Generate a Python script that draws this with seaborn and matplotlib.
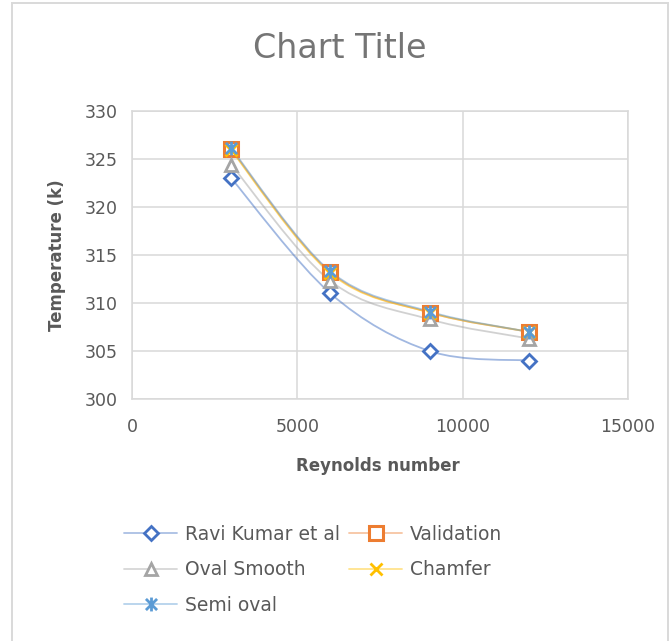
import numpy as np
import matplotlib
matplotlib.use("Agg")
import matplotlib.pyplot as plt
from matplotlib.path import Path
from matplotlib.patches import PathPatch, Rectangle
from matplotlib.lines import Line2D
import seaborn as sns

# Reynolds number and outlet temperature (K) for each configuration
reynolds = [3000, 6000, 9000, 12000]
ravi_kumar = [323.0, 311.0, 305.0, 304.0]
validation = [326.0, 313.2, 309.0, 307.0]
oval_smooth = [324.4, 312.3, 308.3, 306.3]
chamfer = [325.9, 313.1, 309.0, 307.0]
semi_oval = [326.1, 313.3, 309.1, 307.0]

series_names = ["Ravi Kumar et al", "Validation", "Oval Smooth", "Chamfer", "Semi oval"]
series_values = [ravi_kumar, validation, oval_smooth, chamfer, semi_oval]

x_ticks = [0, 5000, 10000, 15000]
y_ticks = [300, 305, 310, 315, 320, 325, 330]

sns.set_theme(style="white")
plt.rcParams["font.family"] = ["DejaVu Sans"]

TEXT = "#595959"
GRID = "#D9D9D9"

# asterisk marker: an "x" crossed by a vertical stroke
star_marker = Path(
    [(-1, -1), (1, 1), (-1, 1), (1, -1), (0, -1.25), (0, 1.25)],
    [Path.MOVETO, Path.LINETO, Path.MOVETO, Path.LINETO, Path.MOVETO, Path.LINETO],
)

styles = {
    "Ravi Kumar et al": dict(color="#4472C4", marker="D", ms=7.5, mew=2.0, mfc="white"),
    "Validation": dict(color="#ED7D31", marker="s", ms=10.5, mew=2.2, mfc="white"),
    "Oval Smooth": dict(color="#A5A5A5", marker="^", ms=9, mew=2.0, mfc="white"),
    "Chamfer": dict(color="#FFC000", marker="x", ms=9, mew=2.0, mfc="none"),
    "Semi oval": dict(color="#5B9BD5", marker=star_marker, ms=10, mew=2.0, mfc="none"),
}

fig = plt.figure(figsize=(6.72, 6.41), dpi=100)
ax = fig.add_axes([132 / 672, 1 - 399 / 641, 496 / 672, 288 / 641])


def smooth_path(xs, ys, tension=1 / 6):
    """Cubic Bezier path through the points (Excel-style smoothed line)."""
    pts = np.column_stack([xs, ys]).astype(float)
    verts = [tuple(pts[0])]
    codes = [Path.MOVETO]
    n = len(pts)
    for i in range(n - 1):
        p0 = pts[i - 1] if i > 0 else pts[i]
        p1 = pts[i]
        p2 = pts[i + 1]
        p3 = pts[i + 2] if i + 2 < n else pts[i + 1]
        c1 = p1 + (p2 - p0) * tension
        c2 = p2 - (p3 - p1) * tension
        verts += [tuple(c1), tuple(c2), tuple(p2)]
        codes += [Path.CURVE4] * 3
    return Path(verts, codes)


for name, vals in zip(series_names, series_values):
    st = styles[name]
    ax.add_patch(PathPatch(smooth_path(reynolds, vals), facecolor="none",
                           edgecolor=st["color"], lw=1.3, alpha=0.5, zorder=2))

for name, vals in zip(series_names, series_values):
    st = styles[name]
    sns.lineplot(x=reynolds, y=vals, ax=ax, linestyle="none", marker=st["marker"],
                 markersize=st["ms"], markeredgewidth=st["mew"], markeredgecolor=st["color"],
                 markerfacecolor=st["mfc"], color=st["color"], zorder=3, legend=False)

ax.set_xlim(0, 15000)
ax.set_ylim(300, 330)
ax.set_xticks(x_ticks)
ax.set_yticks(y_ticks)
ax.set_xticklabels([str(v) for v in x_ticks])
ax.set_yticklabels([str(v) for v in y_ticks])
ax.grid(True, color=GRID, lw=1.1)
for sp in ax.spines.values():
    sp.set_color(GRID)
    sp.set_linewidth(1.1)
ax.tick_params(axis="both", length=0, labelsize=12.5, colors=TEXT)
ax.tick_params(axis="y", pad=10)
ax.tick_params(axis="x", pad=14)

ax.set_xlabel("Reynolds number", fontsize=12, fontweight="bold", color=TEXT)
ax.xaxis.set_label_coords(0.496, (399 - 466) / 288)
ax.xaxis.label.set_va("center")
ax.set_ylabel("Temperature (k)", fontsize=12, fontweight="bold", color=TEXT)
ax.yaxis.set_label_coords((57 - 132) / 496, 0.5)
ax.yaxis.label.set_va("center")

fig.text(340 / 672, 1 - 48 / 641, "Chart Title", fontsize=24, color="#757575",
         ha="center", va="center")

# legend, filled column by column
order = ["Ravi Kumar et al", "Oval Smooth", "Semi oval", "Validation", "Chamfer"]
handles = []
for name in order:
    st = styles[name]
    h = Line2D([], [], color=matplotlib.colors.to_rgba(st["color"], 0.45), lw=1.3,
               marker=st["marker"], ms=st["ms"], mew=st["mew"],
               mec=st["color"], mfc=st["mfc"])
    handles.append(h)
leg = fig.legend(handles, order, loc="upper left", bbox_to_anchor=(124 / 672, 1 - 524.5 / 641),
                 ncol=2, frameon=False, fontsize=13.5, borderpad=0, borderaxespad=0,
                 handlelength=2.83, handletextpad=0.43, columnspacing=0.48, labelspacing=0.89)
for t in leg.get_texts():
    t.set_color(TEXT)

fig.patches.append(Rectangle((12 / 672, -0.02), 656 / 672, 1.02 - 3 / 641,
                             transform=fig.transFigure, fill=False,
                             edgecolor=GRID, lw=1.4))

fig.savefig("out.png", dpi=100)
